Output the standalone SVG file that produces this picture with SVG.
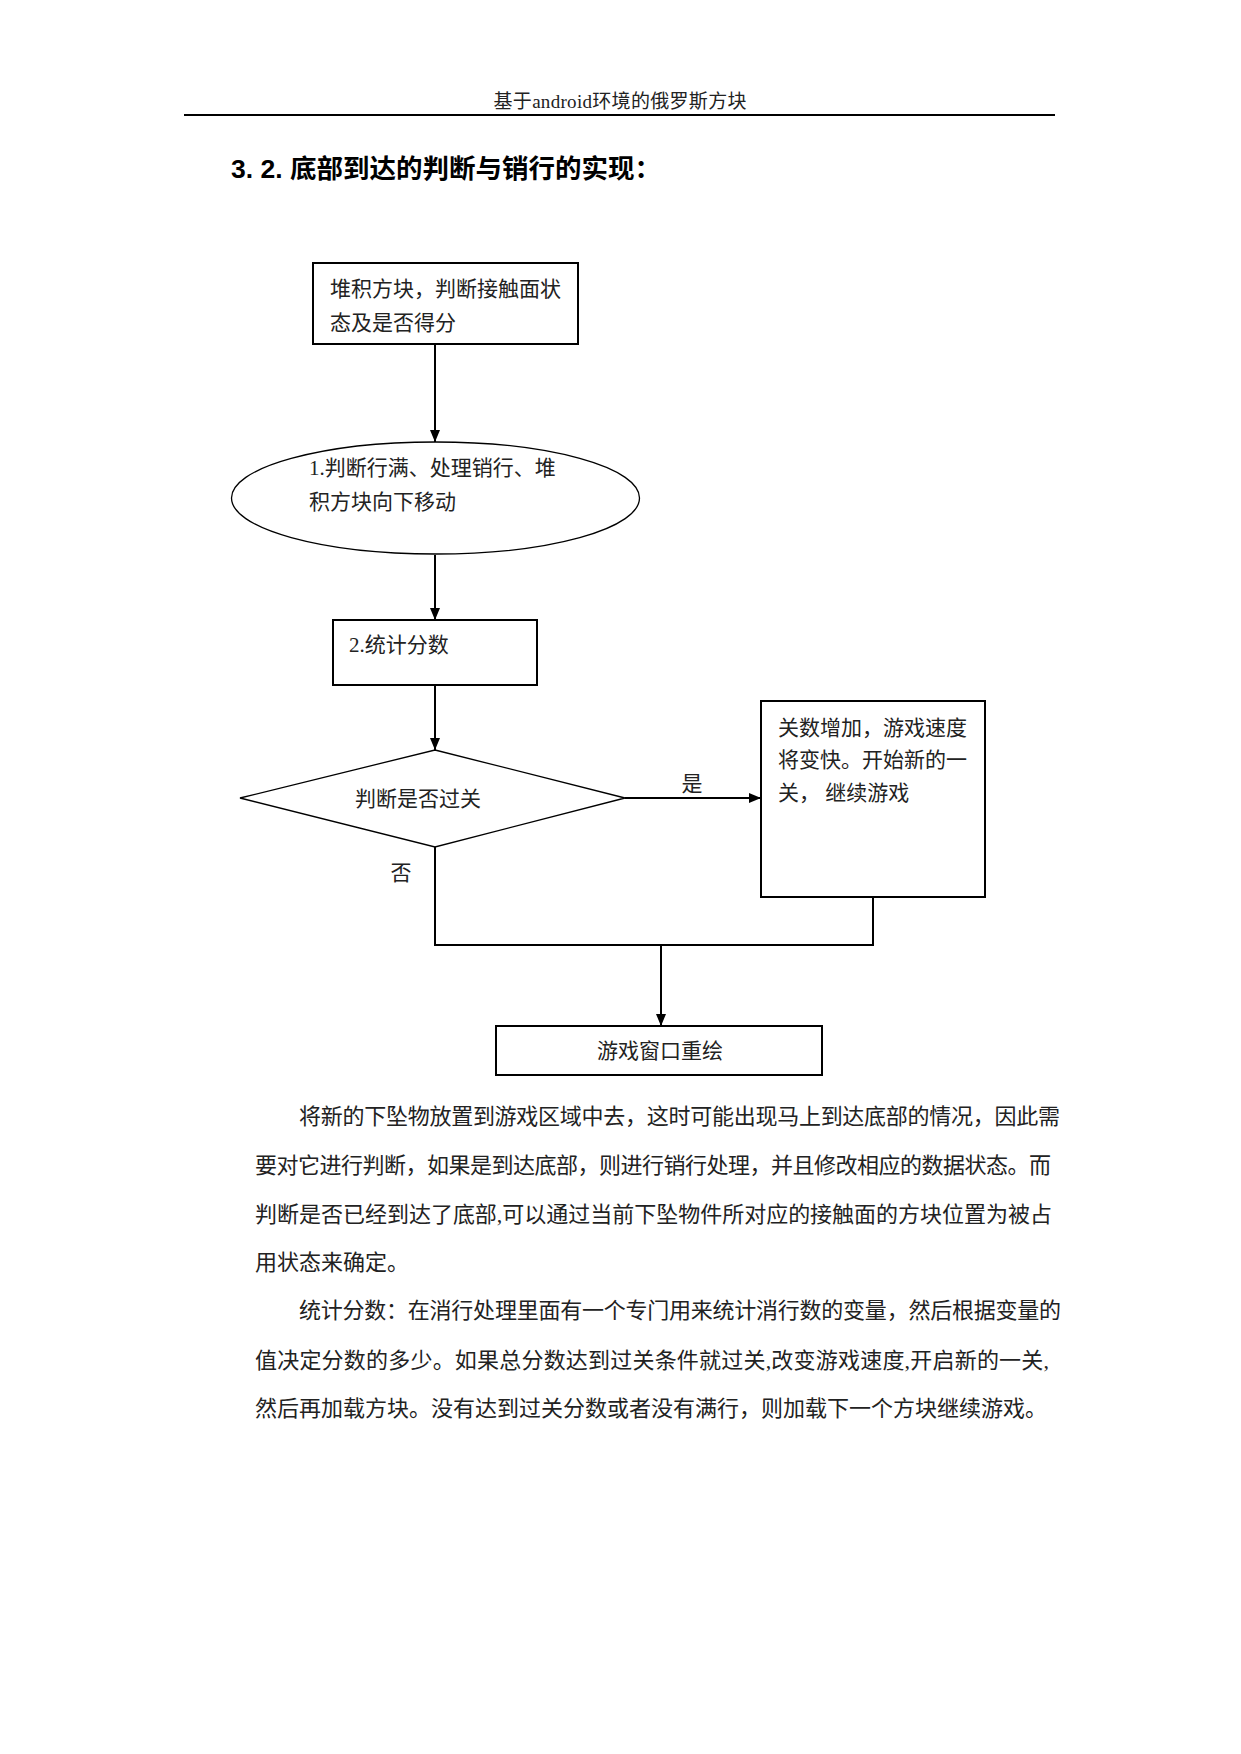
<svg xmlns="http://www.w3.org/2000/svg" width="1241" height="1754" viewBox="0 0 1241 1754">
<style>
.t{font-family:"Liberation Serif","Noto Sans CJK SC",serif;fill:#222;}
.b{fill:#fff;stroke:#000;stroke-width:2;}
.th{fill:#fff;stroke:#000;stroke-width:1.3;}
.c{fill:none;stroke:#000;stroke-width:2;}
</style>
<defs>
<marker id="ah" viewBox="0 0 12 10" refX="12" refY="5" markerWidth="12" markerHeight="10" markerUnits="userSpaceOnUse" orient="auto">
<path d="M0,0 L12,5 L0,10 Z" fill="#000"/>
</marker>
</defs>
<rect width="1241" height="1754" fill="#fff"/>
<text class="t" x="620" y="108" font-size="19" text-anchor="middle" textLength="253" lengthAdjust="spacing">基于android环境的俄罗斯方块</text>
<line x1="184" y1="115" x2="1055" y2="115" stroke="#000" stroke-width="2"/>
<text x="231" y="178" font-size="26.5" font-weight="bold" style="font-family:'Liberation Sans','Noto Sans CJK SC',sans-serif" fill="#000">3. 2. 底部到达的判断与销行的实现：</text>

<g id="connectors">
<line class="c" x1="435" y1="344" x2="435" y2="442" marker-end="url(#ah)"/>
<line class="c" x1="435" y1="555" x2="435" y2="620" marker-end="url(#ah)"/>
<line class="c" x1="435" y1="685" x2="435" y2="750" marker-end="url(#ah)"/>
<line class="c" x1="625" y1="798" x2="761" y2="798" marker-end="url(#ah)"/>
<polyline class="c" points="435,847 435,945 873,945 873,897"/>
<line class="c" x1="661" y1="945" x2="661" y2="1026" marker-end="url(#ah)"/>
<text class="t" x="692" y="791" font-size="21" text-anchor="middle">是</text>
<text class="t" x="401" y="880" font-size="21" text-anchor="middle">否</text>
</g>

<g id="n1">
<rect class="b" x="313" y="263" width="265" height="81"/>
<text class="t" x="330" y="296" font-size="21">堆积方块，判断接触面状</text>
<text class="t" x="330" y="330" font-size="21">态及是否得分</text>
</g>
<g id="n2">
<ellipse class="th" cx="435.5" cy="498" rx="204" ry="56"/>
<text class="t" x="309" y="475" font-size="21">1.判断行满、处理销行、堆</text>
<text class="t" x="309" y="509" font-size="21">积方块向下移动</text>
</g>
<g id="n3">
<rect class="b" x="333" y="620" width="204" height="65"/>
<text class="t" x="349" y="652" font-size="21">2.统计分数</text>
</g>
<g id="n4">
<polygon class="th" points="435,750 625,798 435,847 240,798"/>
<text class="t" x="418" y="806" font-size="21" text-anchor="middle">判断是否过关</text>
</g>
<g id="n5">
<rect class="b" x="761" y="701" width="224" height="196"/>
<text class="t" x="778" y="735" font-size="21">关数增加，游戏速度</text>
<text class="t" x="778" y="767" font-size="21">将变快。开始新的一</text>
<text class="t" x="778" y="800" font-size="21">关， 继续游戏</text>
</g>
<g id="n6">
<rect class="b" x="496" y="1026" width="326" height="49"/>
<text class="t" x="660" y="1058" font-size="21" text-anchor="middle">游戏窗口重绘</text>
</g>

<g font-size="22">
<text class="t" x="299" y="1124" textLength="761" lengthAdjust="spacing">将新的下坠物放置到游戏区域中去，这时可能出现马上到达底部的情况，因此需</text>
<text class="t" x="255" y="1173" textLength="796" lengthAdjust="spacing">要对它进行判断，如果是到达底部，则进行销行处理，并且修改相应的数据状态。而</text>
<text class="t" x="255" y="1222" textLength="797" lengthAdjust="spacing">判断是否已经到达了底部,可以通过当前下坠物件所对应的接触面的方块位置为被占</text>
<text class="t" x="255" y="1270">用状态来确定。</text>
<text class="t" x="299" y="1318" textLength="762" lengthAdjust="spacing">统计分数：在消行处理里面有一个专门用来统计消行数的变量，然后根据变量的</text>
<text class="t" x="255" y="1368" textLength="794" lengthAdjust="spacing">值决定分数的多少。如果总分数达到过关条件就过关,改变游戏速度,开启新的一关,</text>
<text class="t" x="255" y="1416">然后再加载方块。没有达到过关分数或者没有满行，则加载下一个方块继续游戏。</text>
</g>
</svg>
